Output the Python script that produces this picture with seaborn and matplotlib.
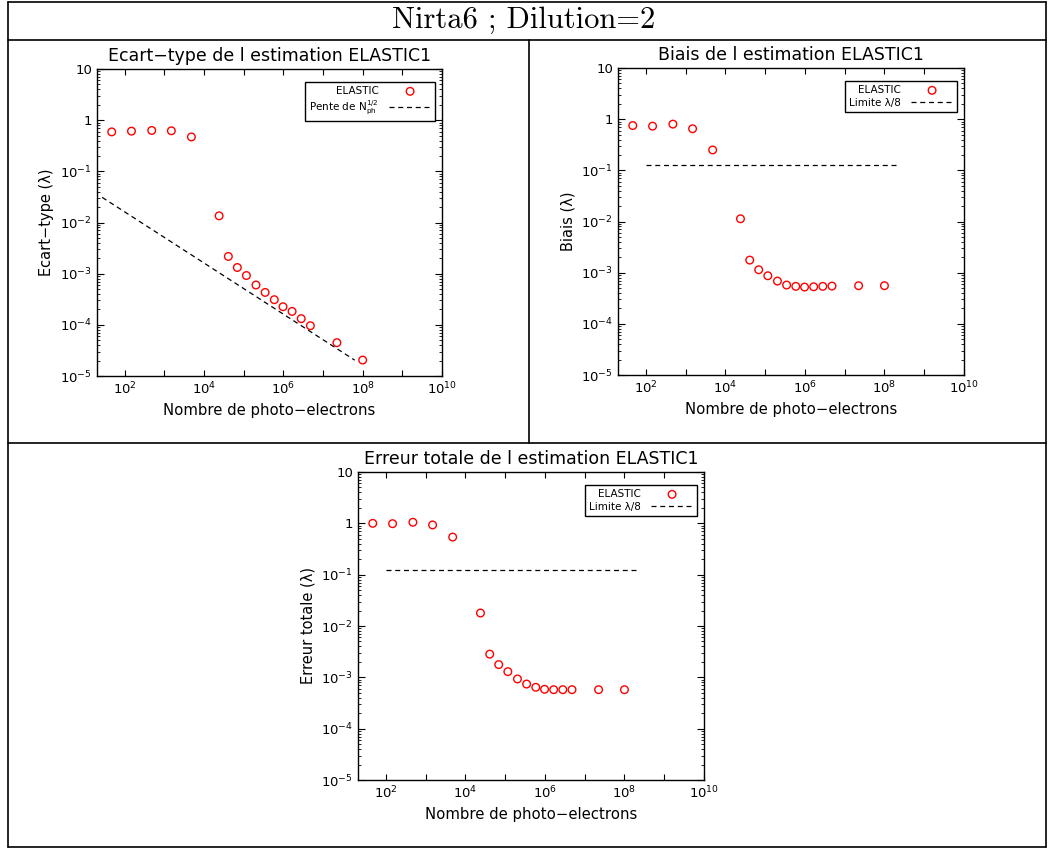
import numpy as np
import matplotlib
matplotlib.use('Agg')
import matplotlib.pyplot as plt
import seaborn as sns
from matplotlib.ticker import LogLocator, FuncFormatter, NullLocator
from matplotlib.lines import Line2D

# nombre de photo-electrons (meme abscisse pour les 3 courbes)
n_ph = [47, 148, 480, 1500, 4800, 24000, 41000, 69000, 117000, 204000,
        347000, 590000, 980000, 1.66e6, 2.82e6, 4.8e6, 2.24e7, 1.0e8]

ecart_type = [0.59, 0.61, 0.63, 0.62, 0.47, 0.0135, 0.00217, 0.00132, 0.00092,
              0.00060, 0.00043, 0.00031, 0.000226, 0.000183, 0.000132,
              0.0000962, 0.0000448, 0.0000205]
biais = [0.75, 0.73, 0.80, 0.65, 0.25, 0.0113, 0.00176, 0.00114, 0.00087,
         0.000685, 0.000573, 0.00054, 0.000523, 0.00053, 0.00054, 0.000547,
         0.000556, 0.000556]
erreur = [1.0, 0.985, 1.05, 0.93, 0.54, 0.0179, 0.00283, 0.00177, 0.00129,
          0.00093, 0.00074, 0.00064, 0.000585, 0.000575, 0.000575, 0.000575,
          0.000575, 0.000575]

# droite de pente N^-1/2 et limite lambda/8
pente_x = [27, 6.3e7]
pente_y = [0.031, 2.04e-5]
limite_x = [100, 2.1e8]
limite_y = [0.125, 0.125]

sns.set_style('ticks')
plt.rcParams['font.family'] = ['DejaVu Sans']
plt.rcParams['axes.linewidth'] = 1.0
for k in ['text.color', 'axes.labelcolor', 'xtick.color', 'ytick.color', 'axes.edgecolor']:
    plt.rcParams[k] = 'black'

W, H = 1048, 849
fig = plt.figure(figsize=(W / 100, H / 100), dpi=100)


def fx(px):
    return px / W


def fy(py):
    return 1 - py / H


def make_axes(left, right, top, bottom):
    return fig.add_axes([fx(left), fy(bottom), fx(right - left), (bottom - top) / H])


def xfmt(v, pos):
    e = int(round(np.log10(v)))
    return r'$10^{%d}$' % e if e % 2 == 0 else ''


def yfmt(v, pos):
    e = int(round(np.log10(v)))
    if e == 0:
        return '1'
    if e == 1:
        return '10'
    return r'$10^{%d}$' % e


def setup(ax, title, ylabel):
    ax.set_xscale('log')
    ax.set_yscale('log')
    ax.set_xlim(20, 1e10)
    ax.set_ylim(1e-5, 10)
    ax.xaxis.set_major_locator(LogLocator(base=10, numticks=20))
    ax.xaxis.set_minor_locator(NullLocator())
    ax.xaxis.set_major_formatter(FuncFormatter(xfmt))
    ax.yaxis.set_major_locator(LogLocator(base=10, numticks=20))
    ax.yaxis.set_minor_locator(LogLocator(base=10, subs=np.arange(2, 10), numticks=20))
    ax.yaxis.set_major_formatter(FuncFormatter(yfmt))
    ax.tick_params(which='both', direction='in', top=True, right=True, labelsize=9.5, color='black')
    ax.tick_params(axis='x', which='major', length=4)
    ax.tick_params(axis='y', which='major', length=5)
    ax.tick_params(axis='y', which='minor', length=2.5)
    for s in ax.spines.values():
        s.set_visible(True)
        s.set_color('black')
    ax.set_title(title, fontsize=12.5, pad=6)
    ax.set_xlabel('Nombre de photo\u2212electrons', fontsize=10.7)
    ax.set_ylabel(ylabel, fontsize=10.5)


def points(ax, y):
    sns.scatterplot(x=n_ph, y=y, ax=ax, marker='o', s=30, facecolor='none',
                    edgecolor='red', linewidth=1, label='ELASTIC')


def legend(ax):
    ax.legend(loc='upper right', bbox_to_anchor=(0.98, 0.958), borderaxespad=0,
              fontsize=7.5, markerfirst=False, fancybox=False, edgecolor='black',
              framealpha=1, handlelength=4, handletextpad=1.0, labelspacing=0.25,
              borderpad=0.4)


# Ecart-type
ax1 = make_axes(97, 442, 69, 376)
setup(ax1, 'Ecart\u2212type de l estimation ELASTIC1', 'Ecart\u2212type (\u03bb)')
points(ax1, ecart_type)
sns.lineplot(x=pente_x, y=pente_y, ax=ax1, color='black', linewidth=0.9,
             linestyle=(0, (4, 3)),
             label=r'Pente de N$_{\mathregular{ph}}^{\mathregular{1/2}}$')
legend(ax1)

# Biais
ax2 = make_axes(618, 964, 68, 375)
setup(ax2, 'Biais de l estimation ELASTIC1', 'Biais (\u03bb)')
points(ax2, biais)
sns.lineplot(x=limite_x, y=limite_y, ax=ax2, color='black', linewidth=0.9,
             linestyle=(0, (4, 3)), label='Limite \u03bb/8')
legend(ax2)

# Erreur totale
ax3 = make_axes(358, 704, 472, 780)
setup(ax3, 'Erreur totale de l estimation ELASTIC1', 'Erreur totale (\u03bb)')
points(ax3, erreur)
sns.lineplot(x=limite_x, y=limite_y, ax=ax3, color='black', linewidth=0.9,
             linestyle=(0, (4, 3)), label='Limite \u03bb/8')
legend(ax3)

# cadre du tableau
lw = 1.2
for (x0, y0, x1, y1) in [(8, 2, 1046, 2), (8, 847, 1046, 847), (8, 2, 8, 847),
                         (1046, 2, 1046, 847), (8, 40, 1046, 40), (8, 443, 1046, 443),
                         (529, 40, 529, 443)]:
    fig.add_artist(Line2D([fx(x0), fx(x1)], [fy(y0), fy(y1)], color='black', lw=lw))

fig.text(0.5, fy(20), 'Nirta6 ; Dilution=2', ha='center', va='center',
         fontsize=22, family=['cmr10', 'DejaVu Serif'])

fig.savefig('out.png', dpi=100)
